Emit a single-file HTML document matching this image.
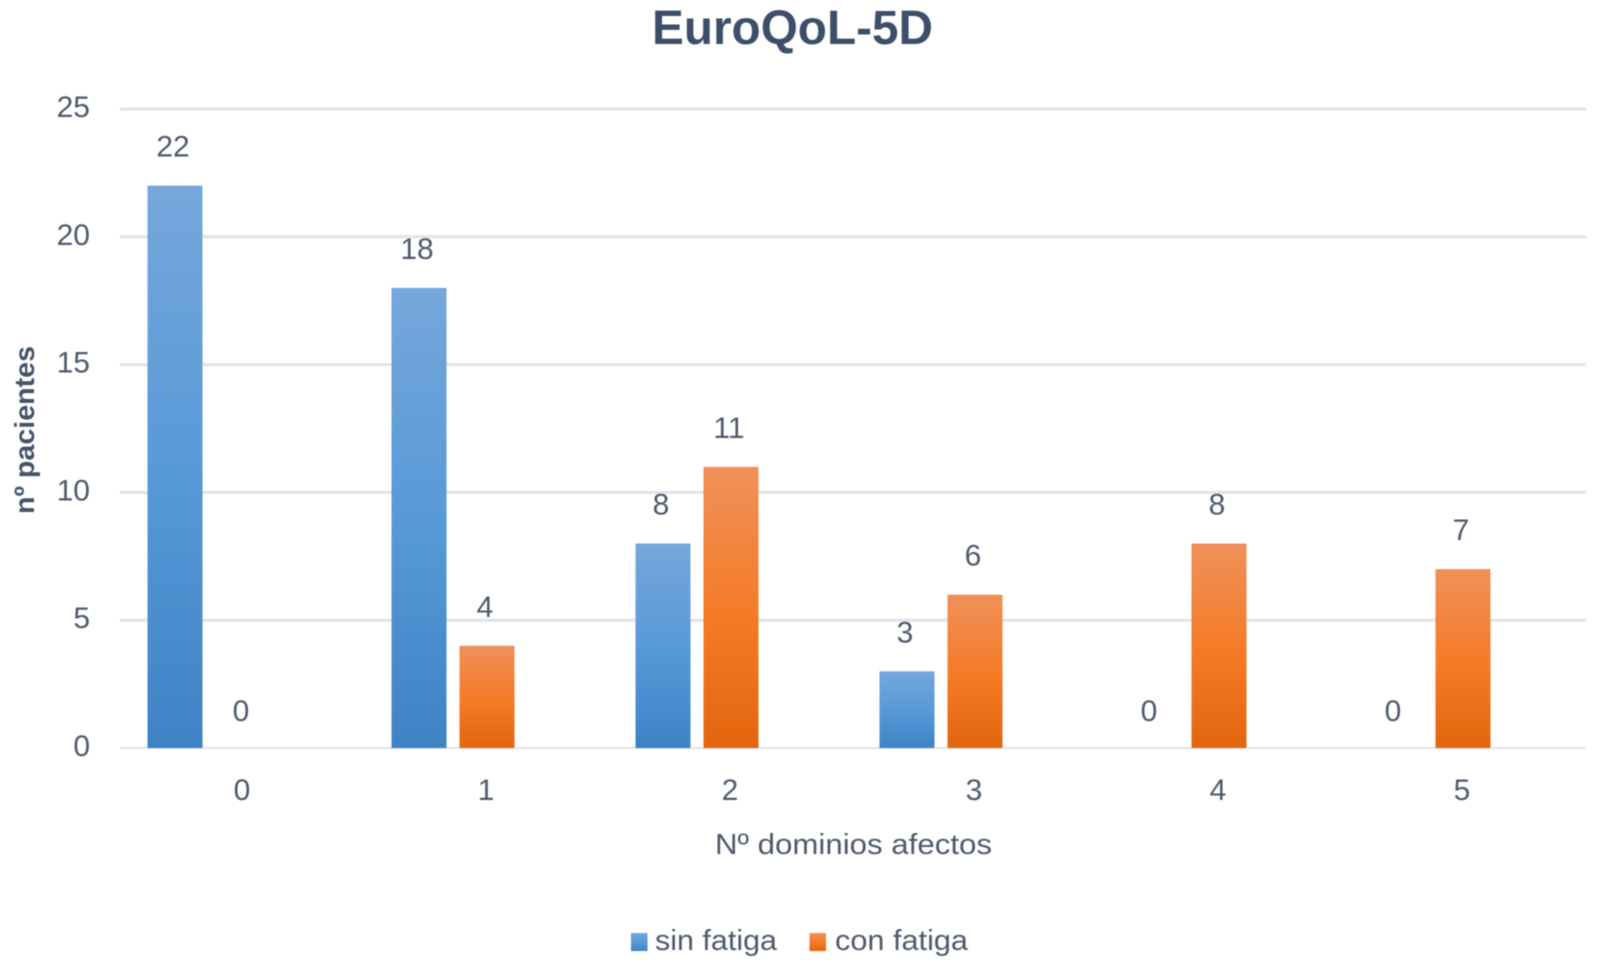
<!DOCTYPE html>
<html>
<head>
<meta charset="utf-8">
<style>
html,body{margin:0;padding:0;background:#fff;}
svg{display:block;filter:blur(0.6px);}
text{font-family:"Liberation Sans",sans-serif;}
</style>
</head>
<body>
<svg id="chart" width="1600" height="963" viewBox="0 0 1600 963" xmlns="http://www.w3.org/2000/svg">
<defs>
<linearGradient id="gb" x1="0" y1="0" x2="0" y2="1"><stop offset="0" stop-color="#76a7dc"/><stop offset="0.55" stop-color="#5598d8"/><stop offset="1" stop-color="#3f83c4"/></linearGradient>
<linearGradient id="go" x1="0" y1="0" x2="0" y2="1"><stop offset="0" stop-color="#f0915a"/><stop offset="0.55" stop-color="#f57a24"/><stop offset="1" stop-color="#e3660f"/></linearGradient>
</defs>
<text x="652" y="44" font-size="48" font-weight="bold" fill="#3d4f68" textLength="281" lengthAdjust="spacingAndGlyphs">EuroQoL-5D</text>
<g id="grid"></g>
<g id="bars"></g>
<g id="labels"></g>
<text transform="translate(34,514) rotate(-90)" font-size="28" font-weight="bold" fill="#44546a" textLength="168" lengthAdjust="spacingAndGlyphs">nº pacientes</text>
<text x="715" y="854" font-size="29" fill="#4e5a6c" textLength="277" lengthAdjust="spacingAndGlyphs">Nº dominios afectos</text>
<rect x="631" y="933" width="16.5" height="18" fill="url(#gb)"/>
<text x="655" y="950" font-size="29" fill="#4e5a6c" textLength="122" lengthAdjust="spacingAndGlyphs">sin fatiga</text>
<rect x="809.5" y="933" width="16.5" height="18" fill="url(#go)"/>
<text x="835" y="950" font-size="29" fill="#4e5a6c" textLength="133" lengthAdjust="spacingAndGlyphs">con fatiga</text>
</svg>
<script>
var categories = ['0', '1', '2', '3', '4', '5'];
var sinFatiga = [22, 18, 8, 3, 0, 0];
var conFatiga = [0, 4, 11, 6, 8, 7];
var yTicks = [0, 5, 10, 15, 20, 25];

var NS = 'http://www.w3.org/2000/svg';
var plotLeft = 120, plotRight = 1586, plotTop = 109, plotBottom = 748;
var yMax = 25;
var barW = 55;
var seriesGap = 68;
function yScale(v){ return plotBottom - (v / yMax) * (plotBottom - plotTop); }
function xTick(i){ return 243 + i * 244; }
var grid = document.getElementById('grid');
var bars = document.getElementById('bars');
var labels = document.getElementById('labels');

function addText(parent, x, y, s, anchor){
  var t = document.createElementNS(NS, 'text');
  t.setAttribute('x', x);
  t.setAttribute('y', y);
  t.setAttribute('font-size', 30);
  t.setAttribute('fill', '#4e5a6c');
  t.setAttribute('text-anchor', anchor);
  t.textContent = s;
  parent.appendChild(t);
  return t;
}

yTicks.forEach(function(v){
  var l = document.createElementNS(NS, 'line');
  l.setAttribute('x1', plotLeft);
  l.setAttribute('x2', plotRight);
  l.setAttribute('y1', yScale(v));
  l.setAttribute('y2', yScale(v));
  l.setAttribute('stroke', '#e0e3e8');
  l.setAttribute('stroke-width', v === 0 ? 2 : 3);
  
  
  grid.appendChild(l);
  var t = addText(labels, 90, yScale(v) + 8, String(v), 'end');
  
  
});

function drawBar(v, cx, fill, name){
  var y = yScale(v);
  if (v > 0) {
    var r = document.createElementNS(NS, 'rect');
    r.setAttribute('x', cx - barW / 2);
    r.setAttribute('y', y);
    r.setAttribute('width', barW);
    r.setAttribute('height', plotBottom - y);
    r.setAttribute('fill', fill);
    
    
    bars.appendChild(r);
  }
  var t = addText(labels, cx - 2, y - (v === 0 ? 27 : 29), String(v), 'middle');
  
  
}

categories.forEach(function(c, i){
  var cx = xTick(i);
  drawBar(sinFatiga[i], cx - seriesGap, 'url(#gb)', 'bar-sin-fatiga-' + c);
  drawBar(conFatiga[i], cx, 'url(#go)', 'bar-con-fatiga-' + c);
  var t = addText(labels, cx - 1, 800, c, 'middle');
  
  
});
</script>
</body>
</html>
